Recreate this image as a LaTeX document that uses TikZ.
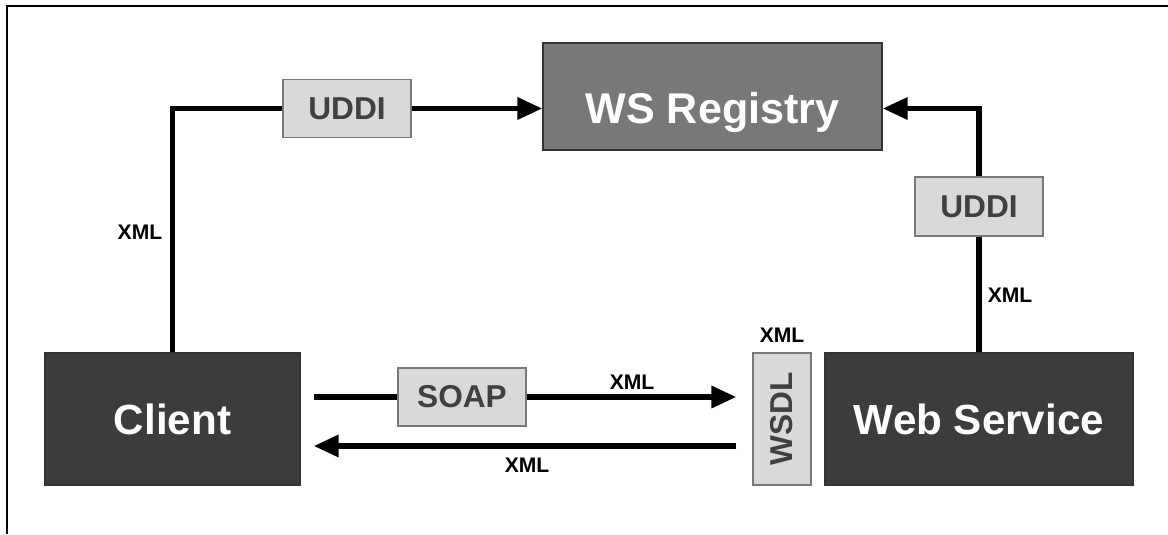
\documentclass[tikz,border=0pt]{standalone}
\usepackage{fontspec}
\setmainfont{Liberation Sans}
\usepackage{graphicx}
\usetikzlibrary{arrows.meta, positioning}
\definecolor{wsdark}{RGB}{60,60,60}
\definecolor{wsmid}{RGB}{120,120,120}
\definecolor{wslight}{RGB}{217,217,217}
\definecolor{wstext}{RGB}{64,64,64}

\begin{document}
\begin{tikzpicture}[
  bigbox/.style={draw=black!80, line width=0.6pt, text=white, font=\fontsize{24}{28}\selectfont\bfseries, inner sep=0pt},
  tagbox/.style={draw=wsmid, line width=0.6pt, fill=wslight, text=wstext, font=\fontsize{18}{22}\selectfont\bfseries, inner sep=0pt, minimum width=2.56cm, minimum height=1.16cm},
  xmltag/.style={font=\fontsize{12}{14}\selectfont\bfseries, inner sep=0pt},
  link/.style={line width=3.4pt},
  flow/.style={link, -{Triangle[length=0.5cm, width=0.42cm]}}]
 \useasboundingbox (0,0) rectangle (23.36,10.68);
 \draw[line width=1.1pt] (0.14,0) -- (0.14,10.56) -- (23.36,10.56);
 % main boxes
 \node[bigbox, fill=wsmid, minimum width=6.78cm, minimum height=2.14cm] (registry) at (14.25,8.75){};
 \node[text=white, font=\fontsize{24.5}{28}\selectfont\bfseries] (regtext) at ([yshift=-0.32cm]registry.center){WS Registry};
 \node[bigbox, fill=wsdark, minimum width=5.1cm, minimum height=2.64cm] (client) at (3.45,2.3){Client};
 \node[bigbox, fill=wsdark, minimum width=6.16cm, minimum height=2.64cm] (service) at (19.58,2.3){Web Service};
 % protocol tags
 \node[tagbox] (uddiA) at (6.94,8.51){UDDI};
 \node[tagbox, minimum height=1.18cm] (uddiB) at (19.58,6.55){UDDI};
 \node[tagbox] (soap) at (9.24,2.74){SOAP};
 \node[tagbox, minimum width=1.16cm, minimum height=2.64cm] (wsdl) at (15.64,2.3){\rotatebox{90}{WSDL}};
 % connectors
 \draw[link] (client.north) |- (uddiA.west);
 \draw[flow] (uddiA.east) -- (uddiA.east -| registry.west);
 \draw[link] (service.north) -- (uddiB.south);
 \draw[flow] (uddiB.north) |- (uddiA.east -| registry.east);
 \draw[link, shorten <=0.26cm] (client.east |- soap.west) -- (soap.west);
 \draw[flow, shorten >=0.32cm] (soap.east) -- (wsdl.west |- soap.east);
 \coordinate (back) at ([yshift=-0.54cm]wsdl.west);
 \draw[flow, shorten <=0.32cm, shorten >=0.26cm] (back) -- (back -| client.east);
 % xml labels
 \node[xmltag] (xmlA) at (2.8,6.04){XML};
 \node[xmltag] (xmlB) at (20.2,4.78){XML};
 \node[xmltag] (xmlC) at (12.64,3.04){XML};
 \node[xmltag] (xmlD) at (10.54,1.38){XML};
 \node[xmltag, above=0.2cm of wsdl] (xmlE){XML};
\end{tikzpicture}
\end{document}
